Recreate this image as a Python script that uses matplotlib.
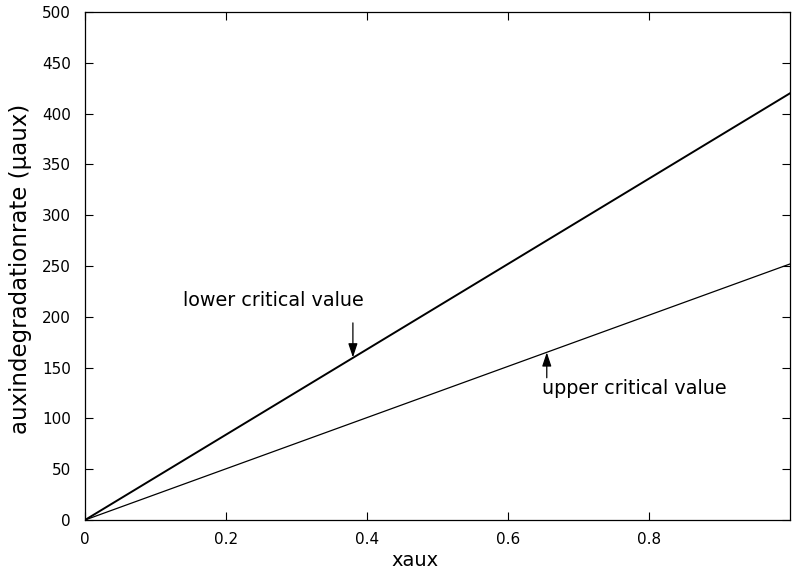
import matplotlib
matplotlib.use("Agg")
import matplotlib.pyplot as plt

x = [0.0, 1.0]
lower_crit = [0.0, 420.0]
upper_crit = [0.0, 252.0]
xticks = [0, 0.2, 0.4, 0.6, 0.8]
xtick_labels = ["0", "0.2", "0.4", "0.6", "0.8"]
yticks = list(range(0, 501, 50))

fig = plt.figure(figsize=(7.92, 5.72), dpi=100)
ax = fig.add_axes([85/792, 1-520/572, (790-85)/792, (520-12)/572])

ax.plot(x, lower_crit, color="black", lw=1.4)
ax.plot(x, upper_crit, color="black", lw=0.9)

ax.set_xlim(0, 1)
ax.set_ylim(0, 500)
ax.set_xticks(xticks)
ax.set_xticklabels(xtick_labels)
ax.set_yticks(yticks)
ax.tick_params(direction="in", top=True, right=True, length=6, width=0.8,
               labelsize=11)
ax.tick_params(axis="x", pad=9)
ax.tick_params(axis="y", pad=10)
for s in ax.spines.values():
    s.set_linewidth(0.9)

ax.set_xlabel("xaux", fontsize=14)
ax.xaxis.set_label_coords(0.468, -0.0906)
ax.xaxis.label.set_va("baseline")
ax.set_ylabel("auxindegradationrate (µaux)", fontsize=16.5)
ax.yaxis.set_label_coords(-0.075, 0.495)

ax.annotate("", xy=(0.38, 160), xytext=(0.38, 194),
            arrowprops=dict(arrowstyle="-|>,head_length=0.6,head_width=0.2",
                            color="black", lw=0.9,
                            mutation_scale=14, shrinkA=0, shrinkB=0))
ax.annotate("", xy=(0.655, 165), xytext=(0.655, 140),
            arrowprops=dict(arrowstyle="-|>,head_length=0.6,head_width=0.2",
                            color="black", lw=0.9,
                            mutation_scale=14, shrinkA=0, shrinkB=0))
ax.text(0.139, 216.5, "lower critical value", fontsize=13.8, va="center", ha="left")
ax.text(0.648, 129, "upper critical value", fontsize=13.8, va="center", ha="left")

fig.savefig("out.png", dpi=100)
